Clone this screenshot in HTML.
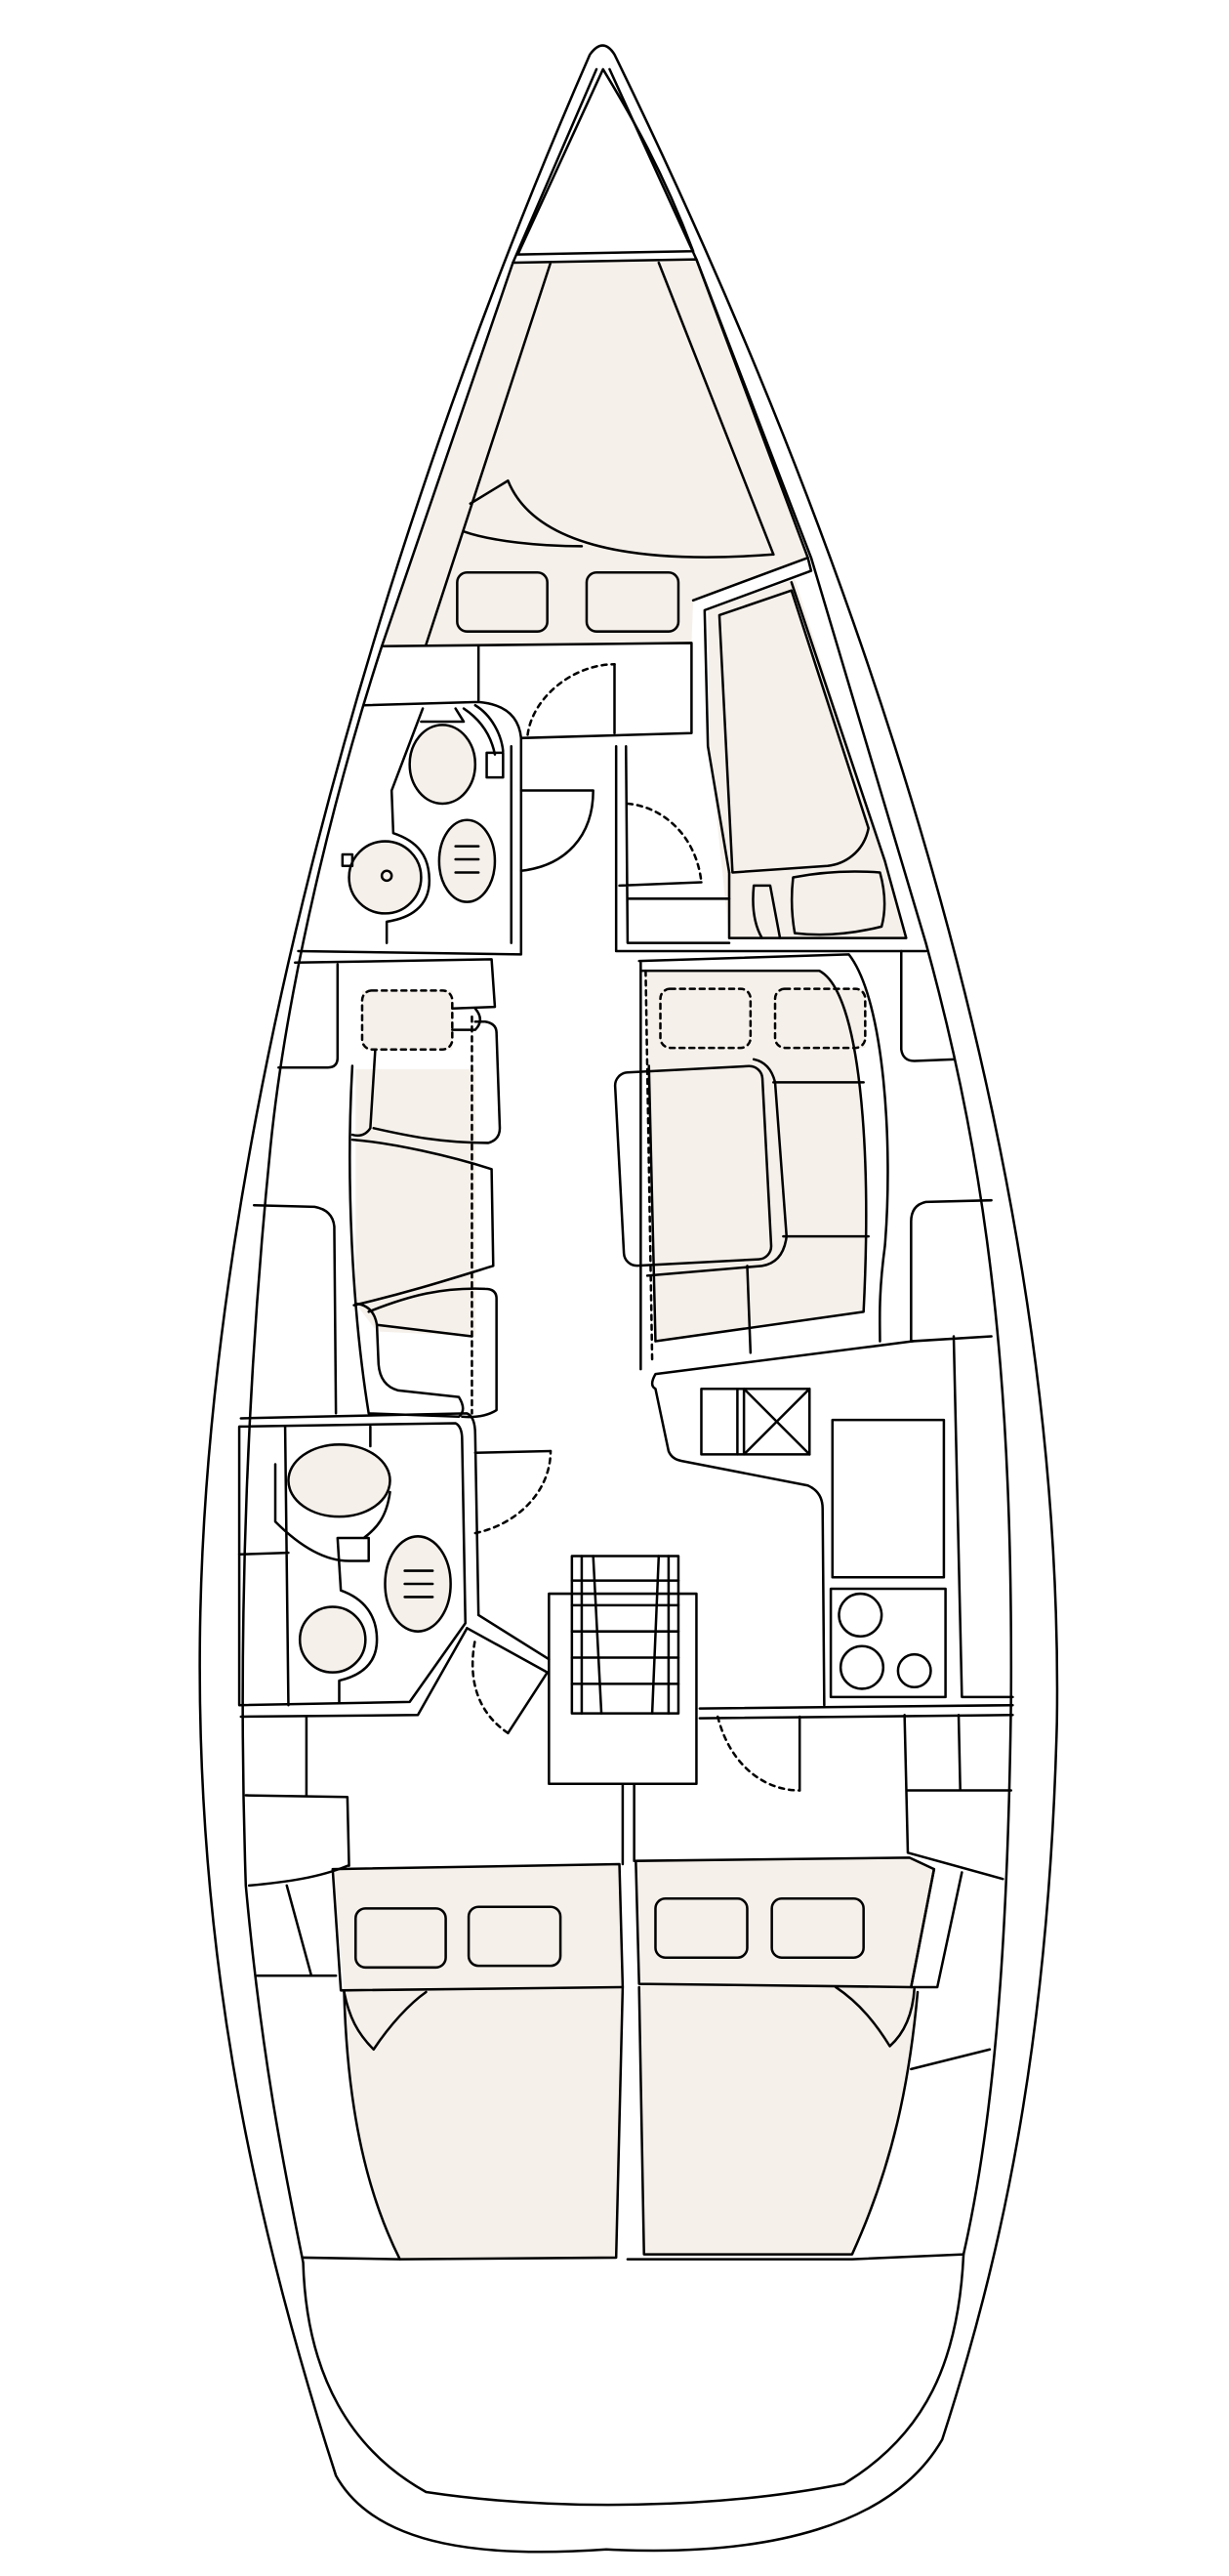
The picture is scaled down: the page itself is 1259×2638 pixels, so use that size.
<!DOCTYPE html>
<html><head><meta charset="utf-8"><style>html,body{margin:0;padding:0;background:#fff}svg{display:block}</style></head>
<body>
<svg width="1259" height="2638" viewBox="0 0 750 1571" xmlns="http://www.w3.org/2000/svg" fill="none" stroke="#000" stroke-width="1.5" stroke-linejoin="round" stroke-linecap="round">
<g fill="#f5f0ea" stroke="none">
<path d="M313,160 L425,158 L493,340 L423,366 L422,392 L233,394 Z"/>
<path d="M432,372 L485,353 L540,525 L553,572 L445,572 L433,455 Z"/>
<path d="M217,652 L290,652 L290,815 L230,812 L217,795 Z"/>
<rect x="221" y="604" width="55" height="36"/>
<path d="M393,592 L500,592 C525,605 532,700 527,800 L400,818 L396,650 Z"/>
<rect x="403" y="603" width="55" height="36"/><rect x="473" y="603" width="55" height="36"/>
<ellipse cx="207" cy="903" rx="31" ry="22"/><ellipse cx="255" cy="966" rx="20" ry="29"/><circle cx="203" cy="1000" r="20"/>
<ellipse cx="270" cy="466" rx="20" ry="24"/><ellipse cx="285" cy="525" rx="17" ry="25"/><circle cx="235" cy="535" r="22"/>
<path d="M203,1140 L378,1137 L380,1212 L376,1377 L244,1378 C225,1340 212,1290 210,1215 Z"/>
<path d="M388,1135 L555,1133 L570,1140 L556,1212 L560,1215 C555,1270 545,1320 520,1375 L393,1375 L390,1212 Z"/>
</g>
<path d="M360,33 Q368,22 375,33 C520,330 650,700 645,1050 C640,1250 610,1380 575,1488 C545,1540 470,1560 370,1555 C300,1560 230,1555 205,1510 C150,1340 120,1180 122,1000 C125,700 230,330 360,33 Z"/>
<path d="M364,42 L313,160 L233,394 C205,480 175,600 165,700 C150,850 145,1000 150,1150 C160,1260 175,1330 185,1380 C187,1450 215,1495 260,1520 C340,1532 440,1530 515,1515 C565,1485 585,1440 588,1375 C605,1300 615,1200 617,1035 C618,850 605,720 565,575 L495,340 L425,158 L372,42"/>
<path d="M316,155 L368,42 C385,70 405,105 423,153 Z"/>
<path d="M313,160 L425,158 L493,340 M336,160 L260,393 M402,160 L472,338"/>
<path d="M287,307 L310,293 C325,330 380,345 472,338 M283,324 C300,330 330,333 355,333"/>
<rect x="279" y="349" width="55" height="36" rx="6"/><rect x="358" y="349" width="56" height="36" rx="6"/>
<path d="M233,394 L422,392 L422,447 L318,450 M423,366 L493,340 L495,348 L430,372 L432,455 L445,532"/>
<path d="M222,430 L292,428 L292,394 M292,428 Q316,430 318,450 L318,582 L182,580 M312,455 L312,575"/>
<path d="M322,448 C325,425 350,405 375,405" stroke-dasharray="3,3"/><path d="M375,405 L375,447"/>
<ellipse cx="270" cy="466" rx="20" ry="24"/><ellipse cx="285" cy="525" rx="17" ry="25"/>
<path d="M278,516 L292,516 M278,524 L292,524 M278,532 L292,532"/>
<circle cx="235" cy="535" r="22"/><circle cx="236" cy="534" r="3"/>
<path d="M258,432 L239,482 L240,508 C255,513 262,522 262,537 C262,553 250,560 236,562 L236,575"/>
<path d="M257,440 L283,440 L278,432 M283,432 C295,440 300,450 302,460 M290,430 C300,436 306,448 307,458"/>
<rect x="297" y="459" width="10" height="15"/><rect x="209" y="521" width="6" height="7"/>
<path d="M318,482 L362,482 C362,510 345,528 318,531"/>
<path d="M439,375 L483,360 L530,505 C527,520 515,527 505,528 L447,532 Z M483,355 L540,525 L553,572 L445,572 L445,532"/>
<path d="M484,535 Q510,530 537,532 Q542,550 538,565 Q510,572 485,569 Q482,552 484,535 Z M460,540 L470,540 L476,572 M460,540 Q458,560 465,572"/>
<path d="M376,455 L376,580 L565,580 M382,455 L383,575 L445,575 M383,548 L445,548 M378,540 L428,538"/>
<path d="M383,490 C405,492 425,510 428,538" stroke-dasharray="3,3"/>
<path d="M180,587 L300,585 L302,614 L276,615 M170,651 L200,651 Q206,651 206,645 L206,588 M155,735 L192,736 Q203,738 204,748 L205,862"/>
<path d="M215,650 C211,720 215,800 225,862 L280,864 Q285,860 280,852 L243,848 Q232,845 231,832 L230,808 Q228,796 217,795"/>
<path d="M229,640 L226,688 Q222,694 215,692 M228,688 C250,693 270,697 298,697 Q305,695 305,688 L303,630 Q303,624 296,623 L290,623 M276,628 L290,628 Q296,622 290,615"/>
<path d="M215,695 C240,697 275,705 300,713 L301,772 C275,780 250,788 216,796 M225,800 C250,790 270,785 296,786 Q303,786 303,792 L303,860 Q295,865 282,864 M230,808 L288,815"/>
<path d="M288,620 L288,862" stroke-dasharray="3,3"/>
<rect x="221" y="604" width="55" height="36" rx="6" stroke-dasharray="3,3"/>
<path d="M391,592 L500,592 C525,605 532,700 527,800 L400,818 L396,650 M390,586 L518,582 C540,610 545,700 540,760 C536,790 537,805 537,818 M391,586 L391,835"/>
<path d="M394,592 L398,830" stroke-dasharray="3,3"/>
<rect x="378" y="652" width="90" height="118" rx="8" transform="rotate(-3 423 711)"/>
<path d="M472,660 L527,660 M478,754 L530,754 M395,778 L465,772 Q478,770 480,754 L473,660 Q470,648 460,646 M456,772 L458,825"/>
<rect x="403" y="603" width="55" height="36" rx="6" stroke-dasharray="3,3"/><rect x="473" y="603" width="55" height="36" rx="6" stroke-dasharray="3,3"/>
<path d="M557,818 L400,838 Q396,845 400,847 L408,885 Q410,890 416,891 L493,906 Q502,910 502,920 L503,1040"/>
<path d="M550,580 L550,640 Q551,647 558,647 L582,646 M605,732 L565,733 Q556,735 556,745 L556,818 L605,815 M582,815 L587,1035 L618,1035"/>
<rect x="428" y="847" width="66" height="40"/><path d="M450,847 L450,887 M454,847 L454,887 L494,847 M454,847 L494,887"/>
<rect x="508" y="866" width="68" height="96"/>
<rect x="507" y="969" width="70" height="66"/>
<circle cx="525" cy="985" r="13"/><circle cx="526" cy="1017" r="13"/><circle cx="558" cy="1019" r="10"/>
<path d="M427,1042 L618,1040 M427,1048 L618,1046"/>
<rect x="335" y="972" width="90" height="116"/>
<rect x="349" y="949" width="65" height="96"/>
<path d="M349,964 L414,964 M349,979 L414,979 M349,995 L414,995 M349,1011 L414,1011 M349,1027 L414,1027 M355,949 L355,1045 M408,949 L408,1045 M362,949 L367,1045 M402,949 L398,1045"/>
<path d="M380,1088 L380,1137 M387,1088 L387,1135"/>
<path d="M438,1047 C445,1075 465,1092 488,1092" stroke-dasharray="3,3"/><path d="M488,1092 L488,1047"/>
<path d="M147,865 L285,862 Q290,864 290,875 L292,985 M146,870 L278,868 Q282,870 282,878 L284,990 L250,1038 L146,1040 Z"/>
<path d="M146,948 L176,947 M174,870 L176,1040 M226,870 L226,882"/>
<ellipse cx="207" cy="903" rx="31" ry="22"/>
<path d="M168,893 L168,928 C185,945 200,952 213,952 L225,952 L225,938 L206,938 L208,970 C222,975 230,985 230,1000 C230,1015 220,1022 207,1025 L207,1038 M238,910 C236,925 230,932 222,938"/>
<ellipse cx="255" cy="966" rx="20" ry="29"/><path d="M247,958 L264,958 M247,966 L264,966 M247,974 L264,974"/>
<circle cx="203" cy="1000" r="20"/>
<path d="M290,886 L336,885"/><path d="M290,935 C315,930 336,910 336,885" stroke-dasharray="3,3"/>
<path d="M285,993 L334,1020 L310,1057 M292,985 L335,1012"/>
<path d="M310,1057 C292,1045 285,1025 290,1000" stroke-dasharray="3,3"/>
<path d="M147,1047 L255,1046 L285,993 M187,1047 L187,1095 M150,1095 L212,1096 L213,1138 M152,1150 C175,1148 195,1145 212,1138 M175,1150 L190,1205 M157,1205 L205,1205 M185,1377 L244,1378"/>
<path d="M552,1046 L554,1130 L612,1146 M585,1046 L586,1092 M554,1092 L617,1092 M570,1140 L556,1212 L572,1212 L587,1142 M556,1262 L604,1250 M520,1378 L588,1375 M383,1378 L520,1378"/>
<path d="M203,1140 L378,1137 L380,1212 L208,1214 Z"/>
<path d="M210,1215 C212,1290 225,1340 244,1378 L376,1377 L380,1212"/>
<path d="M210,1215 C213,1230 218,1240 228,1250 C238,1235 250,1222 260,1215"/>
<rect x="217" y="1164" width="55" height="36" rx="6"/><rect x="286" y="1163" width="56" height="36" rx="6"/>
<path d="M388,1135 L555,1133 L570,1140 L556,1212 L390,1210 Z"/>
<path d="M390,1212 L393,1375 L520,1375 C545,1320 555,1270 560,1215"/>
<path d="M510,1212 C525,1222 535,1235 543,1248 C552,1240 557,1228 558,1213"/>
<rect x="400" y="1158" width="56" height="36" rx="6"/><rect x="471" y="1158" width="56" height="36" rx="6"/>
</svg>
</body></html>
